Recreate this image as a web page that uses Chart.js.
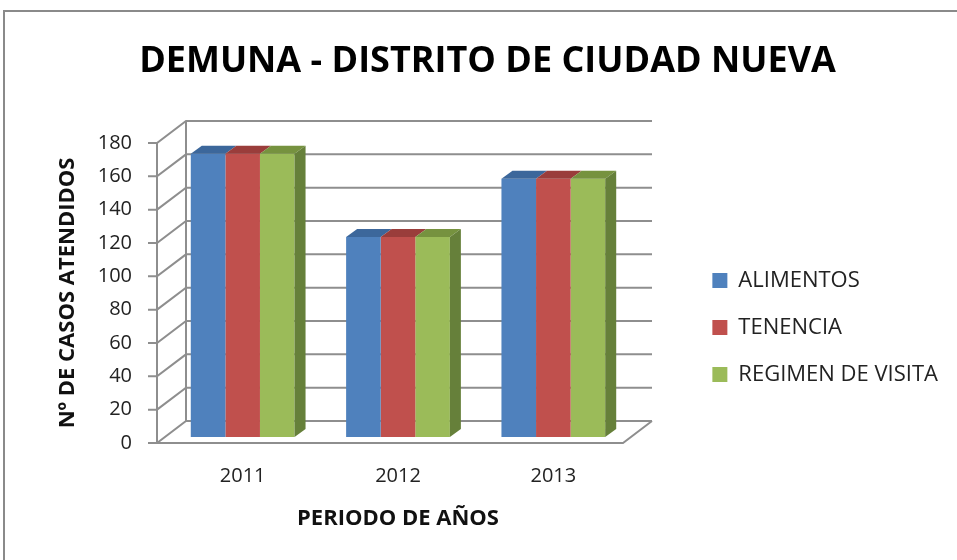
<!DOCTYPE html>
<html>
<head>
<meta charset="utf-8">
<script src="https://cdn.jsdelivr.net/npm/chart.js@4.4.0/dist/chart.umd.min.js"></script>
<style>
  html, body { margin: 0; padding: 0; background: #fff; }
  canvas { display: block; }
</style>
</head>
<body>
<canvas id="chart" width="957" height="560"></canvas>
<script>
// --- data ---
const years = ["2011", "2012", "2013"];
const alimentos = [170, 120, 155];
const tenencia = [170, 120, 155];
const regimenVisita = [170, 120, 155];
const seriesNames = ["ALIMENTOS", "TENENCIA", "REGIMEN DE VISITA"];
const yMax = 180;
const yStep = 20;

const FONT = "'Open Sans', sans-serif";
const FRONT_COLORS = ["#4f81bd", "#c0504d", "#9bbb59"];
const TOP_COLORS = ["#3c679b", "#9a3d3b", "#76923f"];
const SIDE_COLOR = "#66803a";
const GRID_COLOR = "#8e8e8e";

// Excel-style 3D box: the scales sit on the bars' front plane (x) and the
// floor's front edge (y). Everything else is an offset from those.
const FRONT_SHIFT_X = -8;           // floor/axis front edge vs. bar plane
const BAR_SHIFT_Y = -6;             // bar plane sits a little behind the floor edge
const WALL = { dx: 29, dy: -22 };   // front edge -> back wall
const BAR_DEPTH = { dx: 11, dy: -8 };

const PAD_LEFT = 27;
const PAD_RIGHT = 9;
const LEGEND_FONT_SIZE = 22;
const LEGEND_PAD = 25;
const LEGEND_BOX = 15;
const PLOT_LEFT = 165;
const PLOT_RIGHT = 631;

function legendWidth(ctx) {
  ctx.save();
  ctx.font = `${LEGEND_FONT_SIZE}px ${FONT}`;
  const tw = Math.max(...seriesNames.map((n) => ctx.measureText(n).width));
  ctx.restore();
  return LEGEND_PAD + LEGEND_BOX + LEGEND_FONT_SIZE / 2 + tw + 10;
}

const excel3d = {
  id: "excel3d",
  beforeDraw(chart) {
    const { ctx } = chart;
    ctx.save();
    ctx.strokeStyle = "#8a8a8a";
    ctx.lineWidth = 2;
    ctx.strokeRect(4, 11, 1100, 1100);
    ctx.restore();
  },
  beforeDatasetsDraw(chart) {
    const { ctx, chartArea, scales: { y } } = chart;
    const fx0 = chartArea.left + FRONT_SHIFT_X;
    const fx1 = chartArea.right + FRONT_SHIFT_X;
    const bx0 = fx0 + WALL.dx;
    const bx1 = fx1 + WALL.dx;
    const y0 = y.getPixelForValue(0);
    const yTop = y.getPixelForValue(y.max);

    ctx.save();
    ctx.strokeStyle = GRID_COLOR;
    ctx.lineWidth = 2;
    ctx.beginPath();
    y.ticks.forEach((t) => {
      const py = y.getPixelForValue(t.value);
      ctx.moveTo(fx0 - 9, py);
      ctx.lineTo(fx0, py);
      ctx.lineTo(bx0, py + WALL.dy);
      ctx.lineTo(bx1, py + WALL.dy);
    });
    ctx.moveTo(fx0, y0);
    ctx.lineTo(fx0, yTop);
    ctx.moveTo(bx0, y0 + WALL.dy);
    ctx.lineTo(bx0, yTop + WALL.dy);
    ctx.moveTo(fx0, y0);
    ctx.lineTo(fx1, y0);
    ctx.lineTo(bx1, y0 + WALL.dy);
    ctx.stroke();
    ctx.restore();

    // bars are pushed back into their own plane; restored after the faces
    ctx.save();
    ctx.translate(0, BAR_SHIFT_Y);
  },
  afterDatasetsDraw(chart) {
    const { ctx } = chart;
    const last = chart.data.datasets.length - 1;
    chart.data.datasets.forEach((ds, di) => {
      chart.getDatasetMeta(di).data.forEach((bar) => {
        const { x, y: top, width, base } = bar.getProps(["x", "y", "width", "base"], true);
        const l = x - width / 2;
        const r = x + width / 2;
        ctx.fillStyle = TOP_COLORS[di];
        ctx.beginPath();
        ctx.moveTo(l, top);
        ctx.lineTo(l + BAR_DEPTH.dx, top + BAR_DEPTH.dy);
        ctx.lineTo(r + BAR_DEPTH.dx, top + BAR_DEPTH.dy);
        ctx.lineTo(r, top);
        ctx.closePath();
        ctx.fill();
        if (di === last) {
          ctx.fillStyle = SIDE_COLOR;
          ctx.beginPath();
          ctx.moveTo(r, top);
          ctx.lineTo(r + BAR_DEPTH.dx, top + BAR_DEPTH.dy);
          ctx.lineTo(r + BAR_DEPTH.dx, base + BAR_DEPTH.dy);
          ctx.lineTo(r, base);
          ctx.closePath();
          ctx.fill();
        }
      });
    });
    ctx.restore();
  },
};

const seriesData = [alimentos, tenencia, regimenVisita];

new Chart(document.getElementById("chart"), {
  type: "bar",
  data: {
    labels: years,
    datasets: seriesNames.map((name, i) => ({
      label: name,
      data: seriesData[i],
      backgroundColor: FRONT_COLORS[i],
      borderWidth: 0,
      barPercentage: 1,
      categoryPercentage: 0.668,
    })),
  },
  plugins: [excel3d],
  options: {
    responsive: false,
    animation: false,
    devicePixelRatio: 1,
    layout: { padding: { left: PAD_LEFT, right: PAD_RIGHT, top: 0, bottom: 0 } },
    scales: {
      x: {
        grid: { display: false, drawTicks: false },
        border: { display: false },
        ticks: { color: "#222", font: { family: FONT, size: 20 }, padding: 21 },
        title: {
          display: true,
          text: "PERIODO DE AÑOS",
          color: "#111",
          font: { family: FONT, size: 22, weight: "bold" },
          padding: { top: 0, bottom: 28 },
        },
        afterFit: (s) => { s.height = 560 - 443; },
      },
      y: {
        min: 0,
        max: yMax,
        grid: { display: false, drawTicks: false },
        border: { display: false },
        ticks: { stepSize: yStep, color: "#222", font: { family: FONT, size: 20 }, padding: 33 },
        title: {
          display: true,
          text: "Nº DE CASOS ATENDIDOS",
          color: "#111",
          font: { family: FONT, size: 22, weight: "bold" },
          padding: { top: 28, bottom: 0 },
        },
        afterFit: (s) => { s.width = PLOT_LEFT - PAD_LEFT; },
      },
      // spacer between the plot and the legend
      gap: {
        type: "linear",
        position: "right",
        display: true,
        grid: { display: false, drawTicks: false },
        border: { display: false },
        ticks: { display: false },
        afterFit: (s) => { s.width = 957 - PAD_RIGHT - legendWidth(s.ctx) - PLOT_RIGHT; },
      },
    },
    plugins: {
      title: {
        display: true,
        text: "DEMUNA - DISTRITO DE CIUDAD NUEVA",
        color: "#000",
        font: { family: FONT, size: 36, weight: "bold" },
        padding: { top: 40.4, bottom: 59.4 },
      },
      legend: {
        position: "right",
        align: "start",
        maxWidth: 400,
        title: { display: true, text: "", padding: { top: 0, bottom: 230 } },
        labels: {
          boxWidth: LEGEND_BOX,
          boxHeight: LEGEND_BOX,
          padding: LEGEND_PAD,
          color: "#222",
          font: { family: FONT, size: LEGEND_FONT_SIZE },
        },
      },
      tooltip: { enabled: false },
    },
  },
});
</script>
</body>
</html>
